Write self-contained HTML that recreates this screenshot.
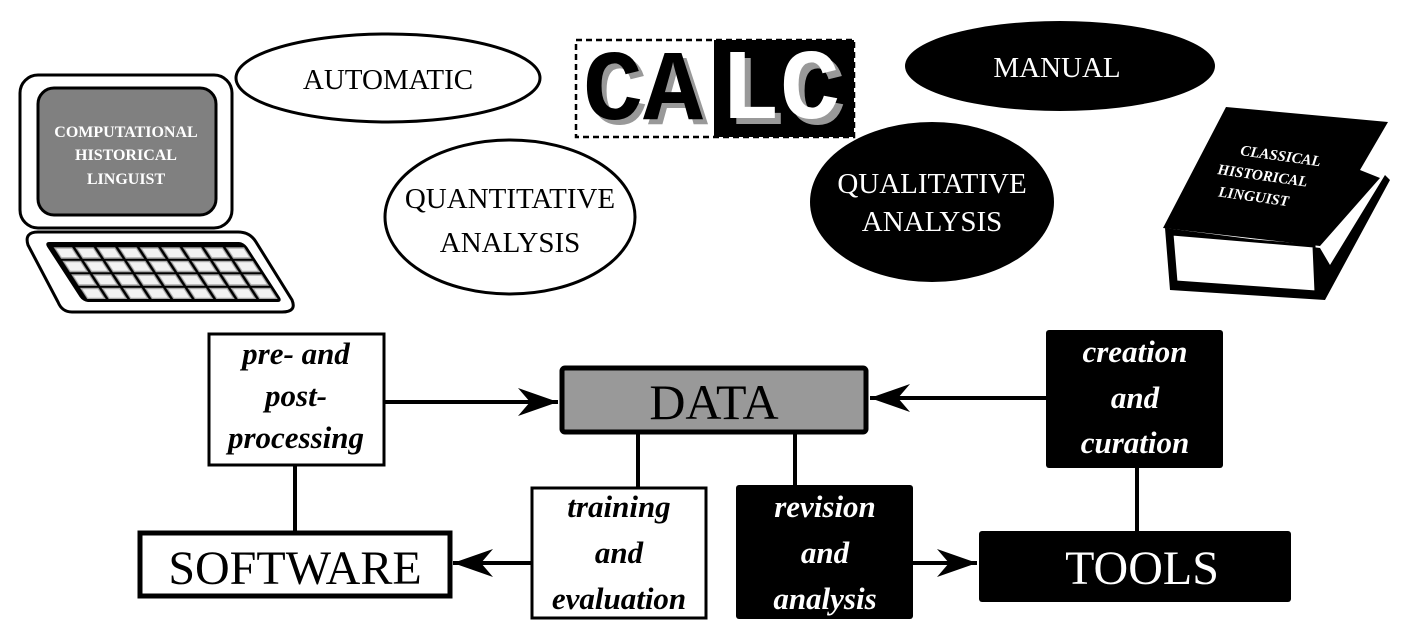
<!DOCTYPE html>
<html><head><meta charset="utf-8"><style>html,body{margin:0;padding:0;background:#fff}svg{display:block}
svg text{font-family:"Liberation Serif",serif}
svg text.mono{font-family:"Liberation Mono",monospace}</style></head>
<body>
<svg width="1408" height="636" viewBox="0 0 1408 636" xmlns="http://www.w3.org/2000/svg">
<defs>
<pattern id="keys" x="6" y="5" width="21.5" height="13.5" patternUnits="userSpaceOnUse">
<rect x="1" y="1" width="17" height="10" fill="#f2f2f2" stroke="#aaa" stroke-width="1.5"/>
</pattern>
<marker id="ah" viewBox="0 0 40 28" refX="40" refY="14" markerWidth="40" markerHeight="28" markerUnits="userSpaceOnUse" orient="auto">
<path d="M0,0 L40,14 L0,28 L12,14 Z" fill="#000"/>
</marker>
</defs>

<!-- computer -->
<rect x="20" y="75" width="212" height="153" rx="18" fill="#fff" stroke="#000" stroke-width="3"/>
<rect x="38" y="88" width="178" height="127" rx="16" fill="#808080" stroke="#000" stroke-width="3"/>
<g fill="#fff" font-weight="bold" font-size="16" text-anchor="middle">
<text x="126" y="137">COMPUTATIONAL</text>
<text x="126" y="160">HISTORICAL</text>
<text x="126" y="184">LINGUIST</text>
</g>
<path d="M38,232 L238,232 Q250,232 256,242 L292,300 Q297,312 282,312 L72,312 Q62,312 58,302 L28,245 Q24,232 38,232 Z" fill="#fff" stroke="#000" stroke-width="3"/>
<g transform="translate(44,242) skewX(33)">
<rect x="0" y="0" width="200" height="60" rx="5" fill="#000"/>
<rect x="4" y="4" width="193" height="53" fill="url(#keys)"/>
</g>

<!-- ellipses -->
<ellipse cx="388" cy="78" rx="152" ry="44" fill="#fff" stroke="#000" stroke-width="3"/>
<text x="388" y="89" font-size="29" text-anchor="middle">AUTOMATIC</text>
<ellipse cx="510" cy="217" rx="125" ry="77" fill="#fff" stroke="#000" stroke-width="3"/>
<text x="510" y="208" font-size="29" text-anchor="middle">QUANTITATIVE</text>
<text x="510" y="252" font-size="29" text-anchor="middle">ANALYSIS</text>
<ellipse cx="1060" cy="66" rx="155" ry="45" fill="#000"/>
<text x="1057" y="77" font-size="29" fill="#fff" text-anchor="middle">MANUAL</text>
<ellipse cx="932" cy="202" rx="122" ry="80" fill="#000"/>
<text x="932" y="193" font-size="29" fill="#fff" text-anchor="middle">QUALITATIVE</text>
<text x="932" y="231" font-size="29" fill="#fff" text-anchor="middle">ANALYSIS</text>

<!-- CALC -->
<rect x="714" y="40" width="140" height="97" fill="#000"/>
<rect x="576" y="40" width="278" height="97" fill="none" stroke="#000" stroke-width="2.5" stroke-dasharray="6,4"/>
<g font-weight="bold" font-size="100">
<text class="mono" x="588" y="124" fill="#999">CA</text>
<text class="mono" x="583" y="119" fill="#000">CA</text>
<text class="mono" x="726" y="124" fill="#999">LC</text>
<text class="mono" x="720" y="118" fill="#fff">LC</text>
</g>

<!-- book -->
<path d="M1165,228 L1170,290 L1325,300 L1390,180 L1385,175 L1330,265 L1320,248 Z" fill="#000"/>
<path d="M1172,234 L1176,282 L1316,292 L1314,246 Z" fill="#fff" stroke="#000" stroke-width="3"/>
<path d="M1226,107 L1388,122 L1360,170 L1380,178 L1320,246 L1163,228 Z" fill="#000"/>
<g fill="#fff" font-style="italic" font-weight="bold" font-size="15" transform="rotate(8 1260 170)">
<text x="1238" y="158">CLASSICAL</text>
<text x="1218" y="180">HISTORICAL</text>
<text x="1222" y="202">LINGUIST</text>
</g>

<!-- connectors -->
<g stroke="#000" stroke-width="4" fill="none">
<line x1="295" y1="465" x2="295" y2="531"/>
<line x1="638" y1="433" x2="638" y2="487"/>
<line x1="795" y1="433" x2="795" y2="485"/>
<line x1="1137" y1="467" x2="1137" y2="531"/>
<line x1="384" y1="402" x2="558" y2="402" marker-end="url(#ah)"/>
<line x1="1046" y1="398" x2="870" y2="398" marker-end="url(#ah)"/>
<line x1="531" y1="563" x2="453" y2="563" marker-end="url(#ah)"/>
<line x1="913" y1="563" x2="977" y2="563" marker-end="url(#ah)"/>
</g>

<!-- boxes -->
<rect x="209" y="334" width="175" height="131" fill="#fff" stroke="#000" stroke-width="3"/>
<g font-style="italic" font-weight="bold" font-size="31" text-anchor="middle">
<text x="296" y="364">pre- and</text>
<text x="296" y="406">post-</text>
<text x="296" y="448">processing</text>
</g>
<rect x="562" y="368" width="304" height="64" rx="3" fill="#999" stroke="#000" stroke-width="5"/>
<text x="714" y="419" font-size="50" text-anchor="middle">DATA</text>
<rect x="1046" y="330" width="177" height="138" rx="3" fill="#000"/>
<g font-style="italic" font-weight="bold" font-size="31" fill="#fff" text-anchor="middle">
<text x="1135" y="362">creation</text>
<text x="1135" y="408">and</text>
<text x="1135" y="453">curation</text>
</g>
<rect x="140" y="533" width="310" height="63" fill="#fff" stroke="#000" stroke-width="5"/>
<text x="295" y="584" font-size="48" text-anchor="middle">SOFTWARE</text>
<rect x="532" y="488" width="174" height="130" fill="#fff" stroke="#000" stroke-width="3"/>
<g font-style="italic" font-weight="bold" font-size="31" text-anchor="middle">
<text x="619" y="517">training</text>
<text x="619" y="563">and</text>
<text x="619" y="609">evaluation</text>
</g>
<rect x="736" y="485" width="177" height="134" rx="3" fill="#000"/>
<g font-style="italic" font-weight="bold" font-size="31" fill="#fff" text-anchor="middle">
<text x="825" y="517">revision</text>
<text x="825" y="563">and</text>
<text x="825" y="609">analysis</text>
</g>
<rect x="979" y="531" width="312" height="71" rx="3" fill="#000"/>
<text x="1142" y="584" font-size="48" fill="#fff" text-anchor="middle">TOOLS</text>
</svg>
</body></html>
